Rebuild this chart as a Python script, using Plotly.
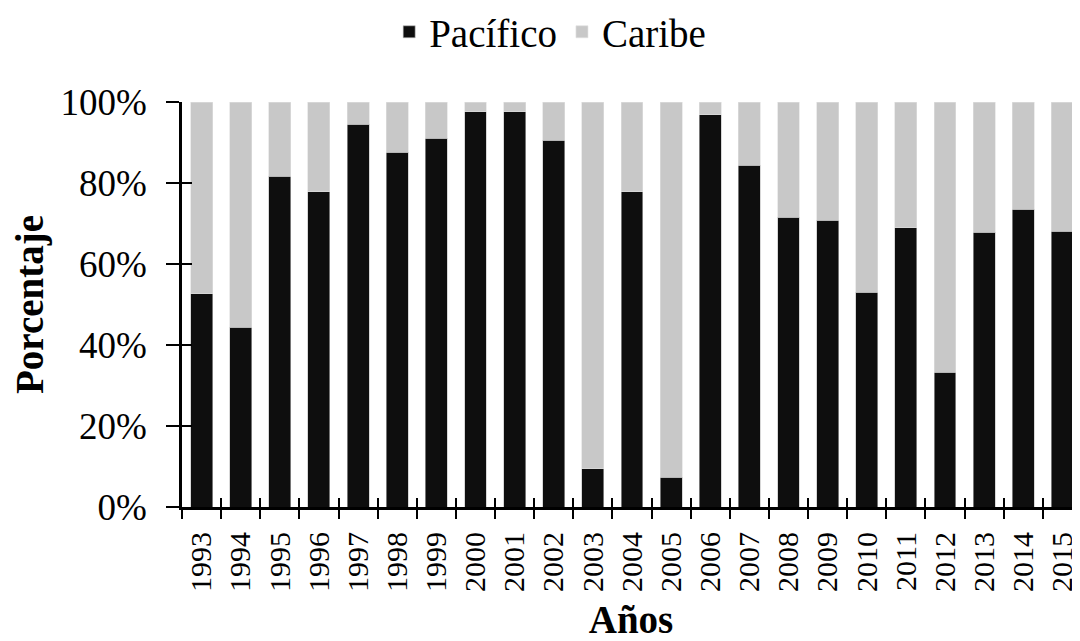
import plotly.graph_objects as go

years = [str(y) for y in range(1993, 2016)]
pacifico = [52.6, 44.4, 81.7, 77.9, 94.5, 87.6, 91.0, 97.6, 97.6, 90.5, 9.5, 77.9,
            7.3, 96.9, 84.4, 71.6, 70.8, 53.0, 68.9, 33.3, 67.8, 73.5, 68.1]
caribe = [47.4, 55.6, 18.3, 22.1, 5.5, 12.4, 9.0, 2.4, 2.4, 9.5, 90.5, 22.1,
          92.7, 3.1, 15.6, 28.4, 29.2, 47.0, 31.1, 66.7, 32.2, 26.5, 31.9]
y_ticks = [0, 20, 40, 60, 80, 100]
y_ticklabels = ["0%", "20%", "40%", "60%", "80%", "100%"]

SERIF = "'Liberation Serif', 'Times New Roman', serif"

fig = go.Figure()
fig.add_trace(go.Bar(x=years, y=pacifico, name="Pacífico",
                     marker=dict(color="#0e0e0e", line=dict(color="#bdbdbd", width=0.6))))
fig.add_trace(go.Bar(x=years, y=caribe, name="Caribe",
                     marker=dict(color="#c8c8c8", line=dict(color="#e0e0e0", width=0.6))))
# helper trace to carry the inner half of the crossing tick marks
fig.add_trace(go.Scatter(x=years, y=[None] * len(years), xaxis="x2", yaxis="y2",
                         showlegend=False, hoverinfo="skip", mode="lines"))

# the page body adds an 8px offset; the figure is sized so it ends at the window edge
xr = [-0.5, 22.45]
fig.update_layout(
    width=1072, height=633,
    margin=dict(l=174, r=0, t=94, b=134, autoexpand=False),
    paper_bgcolor="white", plot_bgcolor="white",
    barmode="stack", bargap=0.44,
    font=dict(family=SERIF, color="black"),
    legend=dict(orientation="h", x=0.41, y=1.173, xanchor="center", yanchor="middle",
                font=dict(size=39, family=SERIF, color="black"), itemwidth=30,
                traceorder="normal", tracegroupgap=0),
    xaxis=dict(type="category", categoryorder="array", categoryarray=years,
               range=xr, tickson="boundaries", ticks="outside", ticklen=9, tickwidth=2,
               tickcolor="black", showline=True, linecolor="black", linewidth=3,
               tickangle=-90, tickfont=dict(size=30, family=SERIF, color="black"),
               ticklabelstandoff=10, ticklabeloverflow="allow",
               showgrid=False, zeroline=False, automargin=False,
               title=dict(text="<b>Años</b>", font=dict(size=39, family=SERIF, color="black"),
                          standoff=15)),
    xaxis2=dict(type="category", categoryorder="array", categoryarray=years,
                overlaying="x", matches="x", anchor="y2", range=xr,
                tickson="boundaries", ticks="inside", ticklen=9, tickwidth=2,
                tickcolor="black", showticklabels=False, showline=False, showgrid=False,
                zeroline=False),
    yaxis=dict(range=[0, 100], tickvals=y_ticks, ticktext=y_ticklabels,
               ticks="outside", ticklen=13, tickwidth=2, tickcolor="black",
               showline=True, linecolor="black", linewidth=2.5,
               tickfont=dict(size=37, family=SERIF, color="black"), ticklabelstandoff=12,
               showgrid=False, zeroline=False, automargin=False,
               title=dict(text="<b>Porcentaje</b>", font=dict(size=39, family=SERIF, color="black"),
                          standoff=18)),
    yaxis2=dict(range=[0, 100], overlaying="y", matches="y", anchor="x2", side="left",
                tickvals=y_ticks, ticks="inside", ticklen=10, tickwidth=2, tickcolor="black",
                showticklabels=False, showline=False, showgrid=False, zeroline=False),
)

fig.write_html("out.html")
